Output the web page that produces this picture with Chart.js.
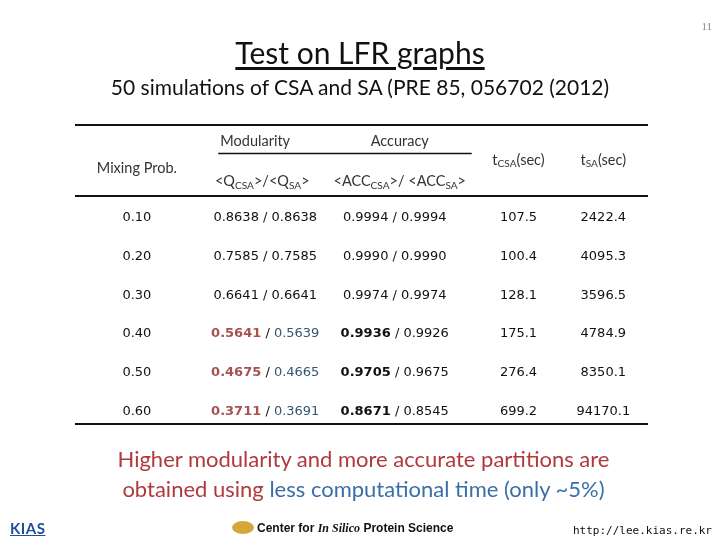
<!DOCTYPE html>
<html lang="en">
<head>
<meta charset="UTF-8">
<title>Test on LFR graphs</title>
<style>
  body { margin: 0; background: #fff; }
  #slide { position: relative; width: 720px; height: 540px; overflow: hidden; font-family: Lato, sans-serif; }
  #slide canvas { position: absolute; left: 0; top: 0; }
  .txt { position: absolute; white-space: nowrap; }
  #title { left: 0; width: 720px; text-align: center; top: 34px; font-size: 30px; color: #111; }
  #title span { text-decoration: underline; text-underline-offset: 3px; }
  #sub { left: 0; width: 720px; text-align: center; top: 74px; font-size: 21px; color: #111; }
  #page { right: 8px; top: 20px; font-size: 11px; color: #888; font-family: "Liberation Serif", serif; }
  #concl { left: 0; width: 727px; text-align: center; top: 444px; font-size: 22px; line-height: 30px; color: #b0393c; }
  #concl .b { color: #3a6ea8; }
  #kias { left: 10px; top: 519px; font-size: 15px; font-weight: bold; color: #1f4f9a; text-decoration: underline; letter-spacing: 0.5px; }
  #ctr { left: 232px; top: 521px; font-size: 12px; font-weight: bold; color: #111; font-family: "Liberation Sans Narrow", "Liberation Sans", sans-serif; }
  #ctr i { font-family: "Liberation Serif", serif; }
  #logo { display: inline-block; width: 22px; height: 13px; border-radius: 50%; background: #d4a838; vertical-align: -2px; margin-right: 3px; }
  #url { right: 8px; top: 524px; font-size: 11px; color: #111; font-family: "DejaVu Sans Mono", monospace; }
</style>
</head>
<body>
<div id="slide">
  <canvas id="tableChart" width="720" height="540"></canvas>
  <div class="txt" id="page">11</div>
  <div class="txt" id="title"><span>Test on LFR graphs</span></div>
  <div class="txt" id="sub">50 simulations of CSA and SA (PRE 85, 056702 (2012)</div>
  <div class="txt" id="concl">Higher modularity and more accurate partitions are<br>obtained using <span class="b">less computational time (only ~5%)</span></div>
  <div class="txt" id="kias">KIAS</div>
  <div class="txt" id="ctr"><span id="logo"></span>Center for <i>In Silico</i> Protein Science</div>
  <div class="txt" id="url">http://lee.kias.re.kr</div>
</div>
<script src="https://cdn.jsdelivr.net/npm/chart.js"></script>
<script>
    // table values
    const mixingProb = ['0.10', '0.20', '0.30', '0.40', '0.50', '0.60'];
    const qCSA = ['0.8638', '0.7585', '0.6641', '0.5641', '0.4675', '0.3711'];
    const qSA = ['0.8638', '0.7585', '0.6641', '0.5639', '0.4665', '0.3691'];
    const accCSA = ['0.9994', '0.9990', '0.9974', '0.9936', '0.9705', '0.8671'];
    const accSA = ['0.9994', '0.9990', '0.9974', '0.9926', '0.9675', '0.8545'];
    const tCSA = ['107.5', '100.4', '128.1', '175.1', '276.4', '699.2'];
    const tSA = ['2422.4', '4095.3', '3596.5', '4784.9', '8350.1', '94170.1'];
    // rows where CSA is better get highlighted
    const highlight = [false, false, false, true, true, true];

    // column centres on the x scale
    const colPos = [0.04, 1.16, 2.29, 3.37, 4.11];

    const RED = '#a65252';
    const BLUE = '#36566e';
    const HEAD = '"Lato", sans-serif';
    const NUM = '"DejaVu Sans", sans-serif';

    // draw a list of [text, colour, bold, sub] pieces centred at x
    function drawParts(ctx, parts, x, y, family, size) {
        let widths = parts.map(p => {
            ctx.font = (p[2] ? 'bold ' : '') + (p[3] ? size * 0.7 : size) + 'px ' + family;
            return ctx.measureText(p[0]).width;
        });
        let total = widths.reduce((a, b) => a + b, 0);
        let cx = x - total / 2;
        parts.forEach((p, i) => {
            ctx.font = (p[2] ? 'bold ' : '') + (p[3] ? size * 0.7 : size) + 'px ' + family;
            ctx.fillStyle = p[1];
            ctx.fillText(p[0], cx, p[3] ? y + 4 : y);
            cx += widths[i];
        });
    }

    const tablePlugin = {
        id: 'tablePlugin',
        afterDatasetsDraw(chart) {
            const ctx = chart.ctx;
            const xs = chart.scales.x;
            const ys = chart.scales.y;
            const X = i => xs.getPixelForValue(colPos[i]);
            const Y = v => ys.getPixelForValue(v);
            ctx.save();
            ctx.textBaseline = 'middle';

            // rules
            ctx.strokeStyle = '#111';
            ctx.lineWidth = 2;
            [-2.41, -0.57, 5.33].forEach(v => {
                ctx.beginPath(); ctx.moveTo(xs.left, Y(v)); ctx.lineTo(xs.right, Y(v)); ctx.stroke();
            });
            ctx.lineWidth = 1.5;
            ctx.beginPath(); ctx.moveTo(X(1) - 47, Y(-1.67)); ctx.lineTo(X(2) + 77, Y(-1.67)); ctx.stroke();

            // header
            const hc = '#333';
            const hs = 14.5;
            drawParts(ctx, [['Modularity', hc]], X(1) - 10, Y(-2.0), HEAD, hs);
            drawParts(ctx, [['Accuracy', hc]], X(2) + 5, Y(-2.0), HEAD, hs);
            drawParts(ctx, [['Mixing Prob.', hc]], X(0), Y(-1.3), HEAD, hs);
            drawParts(ctx, [['t', hc], ['CSA', hc, false, true], ['(sec)', hc]], X(3), Y(-1.5), HEAD, hs);
            drawParts(ctx, [['t', hc], ['SA', hc, false, true], ['(sec)', hc]], X(4), Y(-1.5), HEAD, hs);
            drawParts(ctx, [['<Q', hc], ['CSA', hc, false, true], ['>/<Q', hc], ['SA', hc, false, true], ['>', hc]], X(1) - 3, Y(-0.94), HEAD, hs);
            drawParts(ctx, [['<ACC', hc], ['CSA', hc, false, true], ['>/ <ACC', hc], ['SA', hc, false, true], ['>', hc]], X(2) + 5, Y(-0.94), HEAD, hs);

            // body
            const k = '#111';
            const ns = 13;
            mixingProb.forEach((m, r) => {
                const y = Y(r);
                const h = highlight[r];
                drawParts(ctx, [[m, k]], X(0), y, NUM, ns);
                drawParts(ctx, h ? [[qCSA[r], RED, true], [' / ', k], [qSA[r], BLUE]]
                                 : [[qCSA[r] + ' / ' + qSA[r], k]], X(1), y, NUM, ns);
                drawParts(ctx, h ? [[accCSA[r], k, true], [' / ' + accSA[r], k]]
                                 : [[accCSA[r] + ' / ' + accSA[r], k]], X(2), y, NUM, ns);
                drawParts(ctx, [[tCSA[r], k]], X(3), y, NUM, ns);
                drawParts(ctx, [[tSA[r], k]], X(4), y, NUM, ns);
            });
            ctx.restore();
        }
    };

    new Chart(document.getElementById('tableChart'), {
        type: 'scatter',
        data: {
            datasets: [{
                data: mixingProb.map((m, r) => ({ x: colPos[0], y: r })),
                pointRadius: 0
            }]
        },
        options: {
            responsive: false,
            animation: false,
            layout: { padding: { left: 75, right: 72, top: 125, bottom: 116 } },
            plugins: { legend: { display: false }, tooltip: { enabled: false } },
            scales: {
                x: { type: 'linear', min: -0.5, max: 4.5, display: false },
                y: { type: 'linear', min: -2.41, max: 5.33, reverse: true, display: false }
            }
        },
        plugins: [tablePlugin]
    });
</script>
</body>
</html>
